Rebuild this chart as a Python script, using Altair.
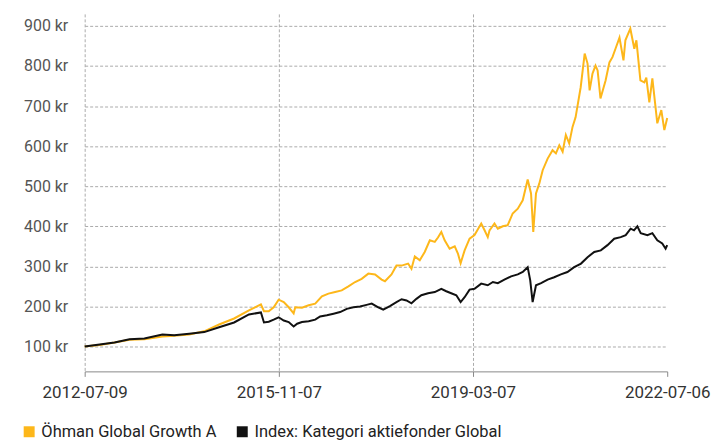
import altair as alt
import pandas as pd

ohman_dates = [
    "2012-07-09", "2012-10-11", "2013-01-12", "2013-04-16", "2013-07-18", "2013-11-08",
    "2014-01-21", "2014-04-25", "2014-07-28", "2014-10-29", "2015-01-31", "2015-05-04",
    "2015-07-18", "2015-08-06", "2015-09-05", "2015-10-06", "2015-11-06", "2015-12-08",
    "2016-01-08", "2016-02-08", "2016-02-18", "2016-03-31", "2016-05-12", "2016-06-22",
    "2016-08-03", "2016-09-13", "2016-10-25", "2016-12-05", "2017-01-16", "2017-02-27",
    "2017-04-09", "2017-05-21", "2017-07-02", "2017-08-12", "2017-09-02", "2017-10-13",
    "2017-11-13", "2017-12-15", "2018-01-25", "2018-02-15", "2018-03-08", "2018-04-08",
    "2018-05-09", "2018-06-10", "2018-07-11", "2018-07-31", "2018-08-21", "2018-09-11",
    "2018-10-12", "2018-11-13", "2018-12-03", "2018-12-20", "2019-01-14", "2019-02-14",
    "2019-03-17", "2019-04-28", "2019-05-19", "2019-06-08", "2019-06-19", "2019-07-20",
    "2019-08-10", "2019-09-10", "2019-10-11", "2019-11-11", "2019-12-13", "2020-01-13",
    "2020-02-13", "2020-03-05", "2020-03-19", "2020-04-05", "2020-04-26", "2020-05-17",
    "2020-06-17", "2020-07-18", "2020-08-08", "2020-08-29", "2020-09-19", "2020-10-09",
    "2020-10-30", "2020-11-20", "2020-12-09", "2021-01-10", "2021-02-04", "2021-02-22",
    "2021-03-07", "2021-03-25", "2021-04-13", "2021-04-26", "2021-05-14", "2021-06-15",
    "2021-07-09", "2021-07-28", "2021-08-16", "2021-09-10", "2021-10-05", "2021-10-17",
    "2021-11-17", "2021-12-12", "2021-12-25", "2022-01-19", "2022-02-13", "2022-02-25",
    "2022-03-16", "2022-04-04", "2022-05-05", "2022-05-30", "2022-06-18", "2022-07-06",
]
ohman_values = [
    100, 104, 110, 117, 118, 125,
    127, 130, 138, 155, 170, 190,
    205, 188, 188, 198, 217, 211,
    198, 183, 198, 197, 203, 207,
    225, 232, 236, 240, 250, 261,
    269, 282, 280, 267, 263, 280,
    302, 302, 307, 294, 325, 315,
    336, 365, 361, 372, 386, 365,
    344, 350, 332, 308, 340, 369,
    378, 407, 390, 373, 390, 407,
    394, 400, 403, 432, 444, 465,
    517, 482, 386, 482, 507, 540,
    569, 590, 582, 602, 586, 628,
    607, 648, 672, 747, 831, 806,
    739, 781, 801, 789, 719, 764,
    809, 822, 843, 871, 814, 864,
    893, 843, 864, 764, 759, 771,
    709, 769, 657, 690, 640, 670,
]

index_dates = [
    "2012-07-09", "2012-10-11", "2013-01-12", "2013-04-16", "2013-07-18", "2013-11-08",
    "2014-01-21", "2014-04-25", "2014-07-28", "2014-10-29", "2015-01-31", "2015-05-04",
    "2015-07-18", "2015-08-06", "2015-09-05", "2015-10-06", "2015-11-06", "2015-12-08",
    "2016-01-08", "2016-02-08", "2016-03-01", "2016-03-31", "2016-05-12", "2016-06-22",
    "2016-07-23", "2016-09-03", "2016-10-15", "2016-11-25", "2017-01-06", "2017-02-16",
    "2017-03-30", "2017-05-10", "2017-06-11", "2017-07-22", "2017-08-22", "2017-10-03",
    "2017-11-13", "2017-12-15", "2018-01-15", "2018-02-15", "2018-03-18", "2018-04-18",
    "2018-05-30", "2018-07-11", "2018-08-21", "2018-09-21", "2018-10-22", "2018-11-23",
    "2018-12-20", "2019-01-14", "2019-02-14", "2019-03-17", "2019-04-28", "2019-06-08",
    "2019-07-10", "2019-08-10", "2019-09-20", "2019-11-01", "2019-12-13", "2020-01-13",
    "2020-02-13", "2020-02-29", "2020-03-15", "2020-04-05", "2020-05-07", "2020-06-17",
    "2020-07-28", "2020-09-08", "2020-10-19", "2020-11-30", "2021-01-12", "2021-02-22",
    "2021-04-05", "2021-05-16", "2021-06-27", "2021-08-08", "2021-09-18", "2021-10-19",
    "2021-11-19", "2021-12-10", "2021-12-31", "2022-01-21", "2022-03-04", "2022-04-04",
    "2022-05-05", "2022-06-05", "2022-06-26", "2022-07-06",
]
index_values = [
    100, 105, 110, 118, 120, 130,
    128, 132, 136, 148, 160, 180,
    185, 160, 162, 167, 173, 165,
    161, 150, 157, 161, 163, 167,
    175, 178, 182, 186, 194, 198,
    200, 204, 207, 198, 192, 201,
    211, 218, 215, 208, 219, 228,
    233, 236, 244, 238, 233, 228,
    211, 223, 242, 244, 257, 253,
    261, 258, 267, 275, 280, 286,
    298, 265, 211, 253, 258, 267,
    273, 280, 286, 298, 307, 323,
    336, 340, 353, 369, 373, 378,
    394, 390, 400, 383, 378, 383,
    365, 357, 344, 353,
]

series_names = ["Öhman Global Growth A", "Index: Kategori aktiefonder Global"]
series_colors = ["#FDB71A", "#111111"]
y_ticks = [100, 200, 300, 400, 500, 600, 700, 800, 900]
x_ticks = ["2012-07-09", "2015-11-07", "2019-03-07", "2022-07-06"]

rows = []
for d, v in zip(ohman_dates, ohman_values):
    rows.append({"date": d, "value": v, "series": series_names[0]})
for d, v in zip(index_dates, index_values):
    rows.append({"date": d, "value": v, "series": series_names[1]})
df = pd.DataFrame(rows)


def dt(s):
    y, m, d = (int(p) for p in s.split("-"))
    return alt.DateTime(year=y, month=m, date=d, utc=True)


FONT = "Roboto"

chart = (
    alt.Chart(df)
    .mark_line(strokeWidth=2, interpolate="linear")
    .encode(
        x=alt.X(
            "date:T",
            scale=alt.Scale(type="utc", domain=[dt(x_ticks[0]), dt(x_ticks[-1])], nice=False),
            axis=alt.Axis(
                title=None,
                values=[dt(v) for v in x_ticks],
                labelExpr="utcFormat(datum.value, '%Y-%m-%d')",
                grid=True,
                gridDash=[3, 2],
                gridColor="#aaaaaa",
                gridOpacity={"condition": {"test": "datum.value > utc(2022,0,1)", "value": 0}, "value": 1},
                domainColor="#888888",
                tickColor="#888888",
                tickSize=5,
                labelFontSize=17,
                labelColor="#333333",
                labelFont=FONT,
                labelPadding=8,
                labelFlush=False,
            ),
        ),
        y=alt.Y(
            "value:Q",
            scale=alt.Scale(domain=[38, 930], nice=False, zero=False),
            axis=alt.Axis(
                title=None,
                values=y_ticks,
                labelExpr="datum.value + ' kr'",
                grid=True,
                gridDash=[3, 2],
                gridColor="#aaaaaa",
                domain=False,
                ticks=False,
                labelFontSize=16,
                labelColor="#555555",
                labelFont=FONT,
                labelPadding=17,
            ),
        ),
        color=alt.Color(
            "series:N",
            scale=alt.Scale(domain=series_names, range=series_colors),
            sort=series_names,
            legend=alt.Legend(
                title=None,
                orient="none",
                legendX=-64,
                legendY=411,
                direction="horizontal",
                symbolType="square",
                symbolSize=16,
                symbolStrokeWidth=7,
                labelFontSize=16.5,
                labelFont=FONT,
                labelColor="#222222",
                labelOffset=4,
                labelLimit=0,
                columnPadding=9,
            ),
        ),
        order=alt.Order("series:N", sort="descending"),
    )
    .properties(
        width=585,
        height=359,
        autosize=alt.AutoSizeParams(type="none"),
        padding={"left": 77, "top": 5, "right": 50, "bottom": 72},
    )
    .configure_view(stroke=None)
)

chart.save("out.html", embed_options={"renderer": "svg", "actions": False})
